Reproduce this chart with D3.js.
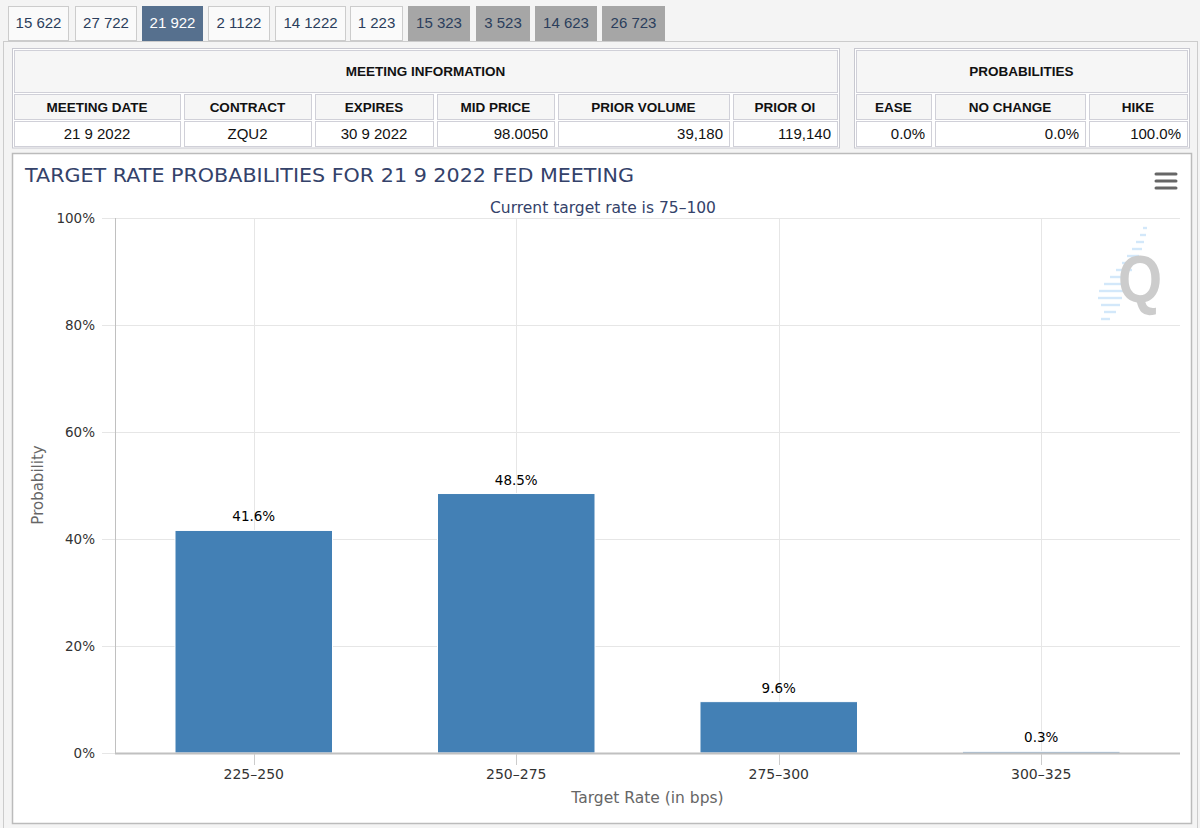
<!DOCTYPE html>
<html><head><meta charset="utf-8">
<script src="https://cdn.jsdelivr.net/npm/d3@7/dist/d3.min.js"></script>
<style>
html,body{margin:0;padding:0;background:#f4f4f4;}
svg{display:block;}
</style></head>
<body>
<script>
// ---- data ----
const tabLabels = ["15 622","27 722","21 922","2 1122","14 1222","1 223","15 323","3 523","14 623","26 723"];
const tabState = ["on","on","sel","on","on","on","off","off","off","off"];
const meetingHeaders = ["MEETING DATE","CONTRACT","EXPIRES","MID PRICE","PRIOR VOLUME","PRIOR OI"];
const meetingValues = ["21 9 2022","ZQU2","30 9 2022","98.0050","39,180","119,140"];
const probHeaders = ["EASE","NO CHANGE","HIKE"];
const probValues = ["0.0%","0.0%","100.0%"];
const categories = ["225-250","250-275","275-300","300-325"];
const probabilities = [41.6, 48.5, 9.6, 0.3];
const yTicks = [0,20,40,60,80,100];

const W=1200,H=828;
const svg=d3.select("body").append("svg").attr("width",W).attr("height",H);
svg.append("rect").attr("width",W).attr("height",H).attr("fill","#f4f4f4");

// ---- tabs ----
const tabX=[8,75,142,208,275,350,408,476,535,602];
const tabR=[69,137,203,270,346,403,470,530,597,665];
const tabG=svg.append("g");
tabLabels.forEach((t,i)=>{
  const st=tabState[i];
  tabG.append("rect").attr("x",tabX[i]+0.5).attr("y",6.5).attr("width",tabR[i]-tabX[i]-1).attr("height",34)
    .attr("fill",st==="sel"?"#56708e":st==="off"?"#a6a6a6":"#fafafa")
    .attr("stroke",st==="sel"?"#56708e":st==="off"?"#a6a6a6":"#cccccc");
  tabG.append("text").attr("x",(tabX[i]+tabR[i])/2).attr("y",28).attr("text-anchor","middle")
    .attr("font-family","Liberation Sans, Arial, sans-serif").attr("font-size",15)
    .attr("fill",st==="sel"?"#ffffff":"#2b3e5c").text(t);
});
// outer panel
svg.append("rect").attr("x",3.5).attr("y",41.5).attr("width",1194).attr("height",800)
  .attr("fill","#f4f4f4").attr("stroke","#cccccc");

// ---- tables ----
const F="Liberation Sans, Arial, Helvetica, sans-serif";
function table(x0,x1,cols,title,headers,values,aligns){
  const g=svg.append("g");
  g.append("rect").attr("x",x0+0.5).attr("y",48.5).attr("width",x1-x0).attr("height",99.5)
    .attr("fill","#ffffff").attr("stroke","#c8c8d0");
  g.append("rect").attr("x",x0+2.5).attr("y",50.5).attr("width",x1-x0-4).attr("height",42)
    .attr("fill","#f6f6f6").attr("stroke","#d0d0d8");
  g.append("text").attr("x",(x0+x1)/2).attr("y",76).attr("text-anchor","middle")
    .attr("font-family",F).attr("font-weight","bold").attr("font-size",13.5).attr("fill","#111").text(title);
  for(let i=0;i<headers.length;i++){
    const a=cols[i]+2,b=cols[i+1]-2;
    g.append("rect").attr("x",a+0.5).attr("y",94.5).attr("width",b-a).attr("height",25)
      .attr("fill","#f6f6f6").attr("stroke","#d0d0d8");
    g.append("rect").attr("x",a+0.5).attr("y",121.5).attr("width",b-a).attr("height",25)
      .attr("fill","#ffffff").attr("stroke","#d0d0d8");
    g.append("text").attr("x",(a+b)/2).attr("y",112).attr("text-anchor","middle")
      .attr("font-family",F).attr("font-weight","bold").attr("font-size",13.5).attr("fill","#111").text(headers[i]);
    const al=aligns[i];
    g.append("text").attr("x",al==="r"?b-6:(a+b)/2).attr("y",139).attr("text-anchor",al==="r"?"end":"middle")
      .attr("font-family",F).attr("font-size",15).attr("fill","#111").text(values[i]);
  }
}
table(12,839,[12,182,313,435,556,731,839],"MEETING INFORMATION",meetingHeaders,meetingValues,["c","c","c","r","r","r"]);
table(854,1189,[854,933,1087,1189],"PROBABILITIES",probHeaders,probValues,["r","r","r"]);

// ---- chart box ----
svg.append("rect").attr("x",12.5).attr("y",153.5).attr("width",1179).attr("height",670)
  .attr("fill","#ffffff").attr("stroke","#bbbbbb").attr("stroke-width",1.5);

const CF="DejaVu Sans, Lucida Grande, sans-serif";
svg.append("text").attr("x",25).attr("y",182).attr("font-family",CF).attr("font-size",19.5)
  .attr("fill","#34426a").attr("textLength",609).attr("lengthAdjust","spacingAndGlyphs")
  .text("TARGET RATE PROBABILITIES FOR 21 9 2022 FED MEETING");
svg.append("text").attr("x",603).attr("y",213).attr("text-anchor","middle").attr("font-family",CF).attr("font-size",15.5)
  .attr("fill","#34426a").text("Current target rate is 75\u2013100");

// menu icon
[174,181,188].forEach(y=>svg.append("line").attr("x1",1156).attr("x2",1176).attr("y1",y).attr("y2",y)
  .attr("stroke","#666").attr("stroke-width",3).attr("stroke-linecap","round"));

// watermark
const wm=svg.append("g");
const stripes=[[1143,1147,228],[1140,1146,235],[1136,1144,242],[1132,1142,249],[1127,1139,256],[1122,1136,263],
  [1116,1132,270],[1110,1128,277],[1104,1126,284],[1099,1124,291],[1098,1122,298],[1101,1120,305],[1104,1116,312],[1101,1110,319]];
stripes.forEach(s=>wm.append("line").attr("x1",s[0]).attr("x2",s[1]).attr("y1",s[2]).attr("y2",s[2])
  .attr("stroke","#d3e8fa").attr("stroke-width",2.4));
wm.append("text").attr("transform","translate(1140,302) scale(0.86,1)").attr("text-anchor","middle").attr("font-family",F)
  .attr("font-weight","bold").attr("font-size",66).attr("fill","#cccccc").text("Q");

// ---- plot ----
const pL=115,pR=1180,pT=218,pB=753;
const x=d3.scaleBand().domain(categories).range([pL,pR]).paddingInner(0).paddingOuter(0.0286);
const y=d3.scaleLinear().domain([0,100]).range([pB,pT]);
const g=svg.append("g");
// horizontal grid
g.selectAll(".hg").data(yTicks).join("line").attr("x1",102).attr("x2",pR)
  .attr("y1",d=>Math.round(y(d))+0.5).attr("y2",d=>Math.round(y(d))+0.5).attr("stroke","#e6e6e6");
// vertical grid
g.selectAll(".vg").data(categories).join("line")
  .attr("x1",d=>Math.round(x(d)+x.bandwidth()/2)+0.5).attr("x2",d=>Math.round(x(d)+x.bandwidth()/2)+0.5)
  .attr("y1",pT).attr("y2",pB).attr("stroke","#e6e6e6");
// y axis labels
g.selectAll(".yl").data(yTicks).join("text").attr("x",95).attr("y",d=>y(d)+5).attr("text-anchor","end")
  .attr("font-family",CF).attr("font-size",13.5).attr("fill","#333").text(d=>d+"%");
// y axis line
g.append("line").attr("x1",pL+0.5).attr("x2",pL+0.5).attr("y1",pT).attr("y2",pB).attr("stroke","#c0c0c0");
// bars
const bw=x.bandwidth()*0.6;
g.selectAll(".bar").data(probabilities).join("rect")
  .attr("x",(d,i)=>x(categories[i])+x.bandwidth()/2-bw/2).attr("width",bw)
  .attr("y",d=>y(d)).attr("height",d=>pB-y(d)).attr("fill","#4380b5").attr("stroke","#ffffff").attr("stroke-width",1);
// x axis line & ticks
g.append("line").attr("x1",pL).attr("x2",pR).attr("y1",pB+0.5).attr("y2",pB+0.5).attr("stroke","#c0c0c0").attr("stroke-width",2);
g.selectAll(".xt").data(categories).join("line")
  .attr("x1",d=>Math.round(x(d)+x.bandwidth()/2)+0.5).attr("x2",d=>Math.round(x(d)+x.bandwidth()/2)+0.5)
  .attr("y1",pB+1).attr("y2",pB+12).attr("stroke","#cccccc");
g.selectAll(".xl").data(categories).join("text").attr("x",d=>x(d)+x.bandwidth()/2).attr("y",pB+26)
  .attr("text-anchor","middle").attr("font-family",CF).attr("font-size",14).attr("fill","#333")
  .text(d=>d.replace("-","\u2013"));
// data labels
g.selectAll(".dl").data(probabilities).join("text").attr("x",(d,i)=>x(categories[i])+x.bandwidth()/2)
  .attr("y",d=>y(d)-9).attr("text-anchor","middle").attr("font-family",CF).attr("font-size",13.5)
  .attr("fill","#000").text(d=>d.toFixed(1)+"%");
// axis titles
svg.append("text").attr("x",(pL+pR)/2).attr("y",803).attr("text-anchor","middle").attr("font-family",CF)
  .attr("font-size",15.5).attr("fill","#666").text("Target Rate (in bps)");
svg.append("text").attr("transform","translate(43,485) rotate(-90)").attr("text-anchor","middle")
  .attr("font-family",CF).attr("font-size",15).attr("fill","#666").text("Probability");
</script>
</body></html>
